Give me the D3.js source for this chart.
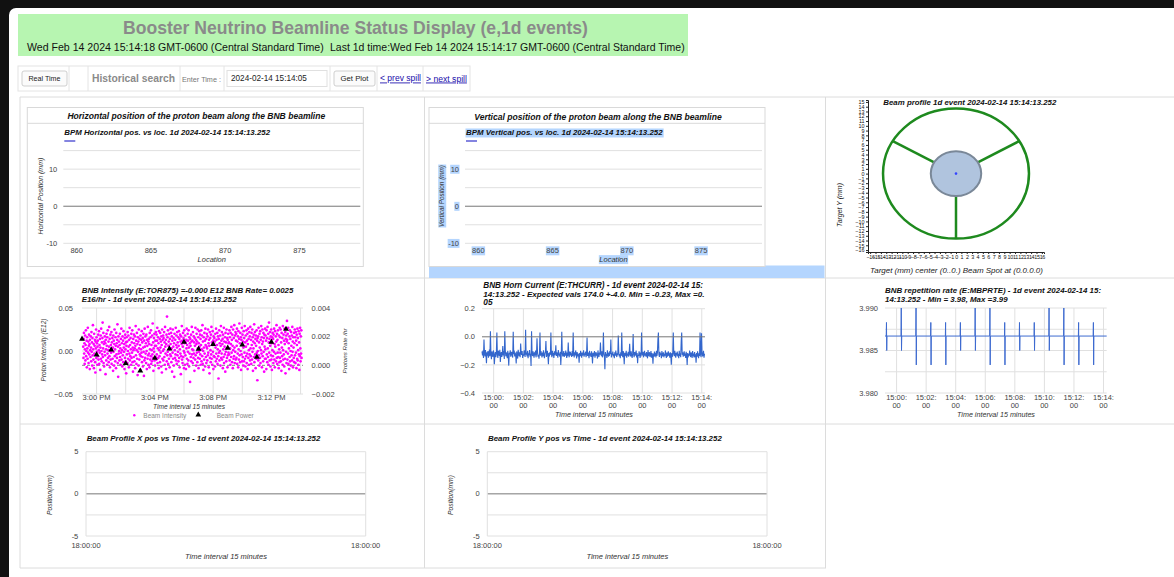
<!DOCTYPE html>
<html><head><meta charset="utf-8">
<script src="https://cdn.jsdelivr.net/npm/d3@7"></script>
<style>
html,body{margin:0;padding:0;background:#111;}
svg{display:block;font-family:"Liberation Sans",Arial,Helvetica,sans-serif;}
</style></head><body>
<svg id="page" width="1174" height="577"></svg>
<script>
// ---------- page text ----------
const pageTitle = "Booster Neutrino Beamline Status Display (e,1d events)";
const nowStamp = "Wed Feb 14 2024 15:14:18 GMT-0600 (Central Standard Time)";
const last1dStamp = "Last 1d time:Wed Feb 14 2024 15:14:17 GMT-0600 (Central Standard Time)";
const eventStamp = "2024-02-14 15:14:13.252";
const searchTime = "2024-02-14 15:14:05";

// ---------- BPM position along the beamline ----------
const bpmLocTicks = [860, 865, 870, 875];
const bpmGrid = [-10, -5, 0, 5, 10, 15];
const bpmLabels = [-10, 0, 10];
const bpmHorizontal = [];   // [location, mm] — no readings in this event
const bpmVertical = [];

// ---------- beam profile on target ----------
const profileTicksX = [-16,-15,-14,-13,-12,-11,-10,-9,-8,-7,-6,-5,-4,-3,-2,-1,0,1,2,3,4,5,6,7,8,9,10,11,12,13,14,15,16];
const profileTicksY = [-16,-15,-14,-13,-12,-11,-10,-9,-8,-7,-6,-5,-4,-3,-2,-1,0,1,2,3,4,5,6,7,8,9,10,11,12,13,14,15];
const targetRadius = 13.6;       // mm
const pipeRadius = 4.7;          // mm
const spokeAngles = [30, 150, 270];
const beamSpot = [0, 0];

// ---------- BNB intensity (E:TOR875), 1 s samples, units of 0.001 E12 ----------
const intensityStart = "14:59:05";
const intensityStepSec = 1;
const beamIntensityMilli = [
5,-8,14,21,-3,9,-15,2,18,-11,7,24,-6,0,12,-19,16,3,-9,27,-2,11,-14,6,19,-4,8,-21,13,1,
-7,17,4,-12,22,-1,10,-17,15,-5,30,2,-10,8,-20,20,-3,6,13,-13,-25,11,3,25,-8,16,-1,9,-16,5,
12,-6,19,-10,1,23,-15,7,-2,14,-22,4,18,-9,26,0,-12,10,-4,15,33,-7,3,21,-14,8,-18,11,-1,17,
-5,9,-27,13,2,-11,20,6,-16,16,-3,24,-8,1,11,-13,5,28,-6,14,-19,0,19,-10,7,-2,22,-15,10,3,
15,-9,4,-23,18,-1,12,-17,8,25,-6,2,-12,16,6,-20,21,-4,9,-8,13,31,-14,5,-30,17,-3,11,0,-11,
7,20,-7,3,-16,14,-2,26,-10,9,1,-18,17,-5,12,-13,23,4,-1,8,-21,15,-8,19,2,-12,10,-26,6,16,
-4,11,-14,22,0,-9,18,5,-19,13,-3,27,-11,7,-6,15,2,-16,20,-8,10,-2,24,-13,4,-24,14,1,-7,19,
9,-12,3,17,-20,6,29,-5,12,-15,1,21,-9,8,-28,16,-1,11,-17,25,3,-10,14,-4,7,-22,18,-6,2,13,
-2,23,-13,10,-7,15,-18,4,20,-1,-29,12,-11,26,5,-8,17,-3,9,-14,19,0,-21,13,6,-9,28,-5,11,-16,
14,-3,8,-19,21,2,-10,16,-6,24,-15,7,1,-12,18,-4,32,-8,10,-23,3,15,-1,20,-11,6,-17,12,-7,22,
6,-10,19,-4,12,27,-14,3,16,-8,9,-20,23,1,-6,14,-13,21,4,-2,11,-18,17,7,-25,25,-9,13,0,18,
-11,15,2,22,-7,10,-16,28,5,-3,13,-21,8,19,-12,40,-5,16,-1,24,-15,6,11,-9,20,2,-19,14,-4,26,
8,-6,21,-13,3,17,-24,12,-2,25,-9,5,15,-17,9,-30,20,1,-8,13,-4,27,-11,7,18,-15,4,22,-5,10,
-1,16,-12,6,23,-8,14,-19,2,19,-3,11,-27,17,-6,8,29,-10,12,-14,5,21,-7,15,0,-20,24,-2,9,-16,
18,-5,10,-21,13,3,26,-9,7,-15,20,-1,12,-11,24,4,-18,16,-3,9,-36,14,6,-7,19,-12,11,28,-4,2,
12,-14,22,1,-8,17,-3,10,-23,15,6,-10,27,-5,13,-17,8,20,-2,11,-13,25,3,-8,16,-20,9,-1,23,5,
-9,19,-4,14,-16,7,24,-12,2,18,-6,30,-15,11,0,-22,16,4,-10,21,-3,12,-18,26,7,-7,14,-14,5,20,
3,-11,17,-5,25,-2,9,-19,13,6,-26,22,-8,15,1,-13,19,-4,28,-9,10,-16,7,23,-1,12,-21,17,-6,8,
15,-7,11,-18,20,4,-12,26,-3,13,-9,7,21,-15,2,17,-6,-32,14,-2,24,-11,9,0,18,-17,6,29,-8,12,
-3,22,-10,8,14,-20,19,2,-7,27,-14,11,5,-4,16,-24,21,-1,10,-12,25,3,-8,15,-19,13,-5,20,-2,9,
10,-4,24,-11,16,3,-16,21,8,-7,28,-2,13,-13,19,6,-20,25,1,-9,15,-6,30,4,-14,18,-1,22,-10,12,
20,-8,6,26,-15,11,-3,17,-19,23,2,-10,14,32,-5,9,-13,21,0,16,-22,13,-4,27,-12,7,19,-7,11,-17,
4,23,-12,15,-2,29,-9,10,-18,18,5,-6,24,-14,12,-3,20,-21,8,26,-8,14,1,-16,22,-4,17,-11,28,3,
-6,13,-15,21,7,-10,25,-1,16,-23,11,3,19,-7,31,-13,9,22,-4,14,-20,18,6,-9,24,-2,12,-34,15,0,
17,-11,27,-5,10,-17,20,4,-8,23,-14,13,1,29,-3,16,-19,8,25,-6,11,-12,21,-1,15,-24,19,5,-9,26,
2,18,-9,12,-21,24,-4,15,-13,28,3,-7,20,-16,10,33,-2,14,-11,22,6,-18,17,-5,25,-10,9,-22,16,1,
21,-6,14,-14,19,-1,26,-10,8,-19,23,5,-3,17,-12,11,30,-8,20,-15,13,-2,24,-7,7,-20,18,2,-13,27,
-8,16,-2,25,-12,10,-23,21,4,-6,15,-16,29,1,-10,19,-4,12,-18,26,8,-9,22,-26,14,-1,18,-14,11,35,
13,-10,20,-3,27,-15,9,3,-21,17,-7,24,-12,14,0,-17,22,6,-5,18,-11,28,-1,11,-19,16,4,-8,21,-13,
9,25,-5,16,-14,22,-2,12,-20,19,7,-9,26,-11,15,1,-16,23,-4,10,-22,20,-6,27,3,-12,17,-3,24,-8
];
// beam power, one reading per minute, units of 0.001 E16 protons/hr
const powerTimes = ["14:59","15:00","15:01","15:02","15:03","15:04","15:05","15:06","15:07","15:08","15:09","15:10","15:11","15:12","15:13"];
const beamPowerMilli = [1.84,0.74,1.09,0.14,-0.38,0.51,1.16,1.63,1.14,1.47,1.21,1.44,0.58,1.63,2.53];
const intensityGridTimes = ["15:00","15:02","15:04","15:06","15:08","15:10","15:12","15:14"];
const intensityTickTimes = ["15:00","15:04","15:08","15:12"];

// ---------- horn current (E:THCURR), 2 s samples, units of 0.001 ----------
const hornStart = "14:59:13";
const hornStepSec = 2;
const hornCurrentMilli = [
-105,-132,-98,-150,-20,-118,-140,-95,-126,-188,-110,-135,-101,-148,-122,-90,-138,40,-115,-160,-104,-129,-142,-97,-119,-195,-131,-108,-146,-112,
30,-127,-150,-99,-117,-136,-93,-180,-124,-109,-144,-116,-65,-133,-102,-158,40,-94,-139,-111,-128,-152,-100,-137,-205,-114,-125,-96,-141,-119,
-107,-134,-148,35,-123,-98,-140,-113,-131,-190,-104,-127,-155,-92,-120,-138,-110,-145,-48,-116,-129,-101,-150,-124,-135,-97,-118,-143,50,-126,
-112,-139,-100,-153,-118,-130,-95,-142,-121,-208,40,-115,-137,-103,-126,-149,-110,-133,-98,-146,-122,-10,-108,-141,-128,-156,-117,30,-135,-101,
-124,-147,-113,-138,-96,-130,-152,-119,-106,-30,-143,-127,-100,-136,-195,-115,-140,-109,-128,30,-121,-145,-99,-134,-116,-150,-104,-131,-118,-60,
-137,-110,-126,-148,-94,-132,-119,-141,-107,-200,-123,35,-112,-139,-129,-101,-144,-116,-135,-98,-125,-150,-113,-138,-40,-121,-146,-105,-132,-117,
-128,-143,-102,-136,30,-119,-147,-111,-133,-97,-125,-154,-108,-140,-120,-131,-185,-115,-138,-100,-127,-149,-112,-134,-123,-96,-141,-118,-130,-106,
-145,-121,-5,-136,-110,-128,-152,-99,-134,-117,-143,-104,-130,-190,-114,-139,-122,-101,-148,-126,-109,-135,-118,-155,-97,-131,-144,-112,-127,-40,
-120,-138,-103,-146,-129,30,-115,-140,-230,-108,-133,-121,-150,-96,-126,-142,-113,-137,-101,-124,-20,-147,-116,-130,-105,-139,-122,-153,-110,-134,
-98,-127,-144,-117,-131,10,-106,-140,-123,-152,-111,-136,30,-119,-145,-102,-129,-196,-114,-138,-125,-100,-148,-120,-133,-107,-142,-116,-50,-128,
-139,-104,-131,-150,-118,20,-126,-145,-109,-134,-121,-98,-147,-115,-188,-128,-137,-103,-124,-151,-112,-140,30,-119,-132,-106,-146,-123,-100,-135,
-117,-142,-108,-129,-153,-95,-137,-121,-110,-144,-126,-102,-149,-116,-133,-192,-119,-141,-105,-130,-124,-147,-99,-136,-114,-20,30,-128,-143,-107,
-131,-118,-152,-101,-139,-125,-110,-146,-122,-135,-97,-129,-150,-113,-141,-120,-104,-137,-127,-148,-111,-134,-198,-116,-143,-108,30,-123,-138,-100,
-126,-149,-114,-132,-105,-140,-121,-153,-99,-136,-118,-145,-30,30,-128,-110,-142,-124,-103,-137,-119,-151,-107,-131,-200,-115,-146,-122,-134,-98,
-130,-144,-111,-127,-150,-102,-138,-120,-147,-109,-133,-125,-185,-116,-141,-104,-129,-152,-118,-136,30,-122,-145,25,-113,-139,-126,-100,-148,-121
];
const hornGrid = [-0.4, -0.2, 0, 0.2];
const timeGrid = ["15:00:00","15:02:00","15:04:00","15:06:00","15:08:00","15:10:00","15:12:00","15:14:00"];

// ---------- repetition rate (E:MBPRTE) ----------
const repBase = 3.9867;
const repSpikeTimes = ["14:59:19","15:00:19","15:01:19","15:02:19","15:03:19","15:04:19","15:05:19","15:06:19","15:07:19","15:08:19","15:09:19","15:10:19","15:11:19","15:12:19","15:13:19"];
const repHigh = [3.9883,3.9900,3.9900,3.9883,3.9883,3.9883,3.9900,3.9900,3.9883,3.9883,3.9883,3.9900,3.9900,3.9883,3.9883];
const repLow  = [3.9850,3.9850,3.9833,3.9833,3.9833,3.9850,3.9850,3.9833,3.9833,3.9850,3.9850,3.9850,3.9833,3.9833,3.9833];
const repGrid = [3.980, 3.9825, 3.985, 3.9875, 3.990];
const repLabels = [3.980, 3.985, 3.990];

// ---------- beam profile position vs time ----------
const posGrid = [-5, -2.5, 0, 2.5, 5];
const posLabels = [-5, 0, 5];
const posTimeLabels = ["18:00:00", "18:00:00"];
const profileXpos = [];   // no samples in window
const profileYpos = [];

// ================= drawing =================
const svg = d3.select("#page");
const at = s => { const p = s.split(":").map(Number); return new Date(2024, 1, 14, p[0], p[1], p[2] || 0); };
const addSec = (d, s) => new Date(d.getTime() + s * 1000);

function fit(t, w) {
  const node = t.node(); const len = node.getComputedTextLength();
  const fs = parseFloat(t.attr("font-size"));
  if (len > 0) t.attr("font-size", (fs * w / len).toFixed(2));
  return t;
}
function label(g, x, y, s, o = {}) {
  const t = g.append("text").attr("x", x).attr("y", y).attr("dy", "0.35em").text(s)
    .attr("font-size", o.size || 8).attr("fill", o.fill || "#222")
    .attr("text-anchor", o.anchor || "start");
  if (o.bold) t.attr("font-weight", "bold");
  if (o.italic) t.attr("font-style", "italic");
  if (o.rotate) t.attr("transform", `rotate(-90,${x},${y})`);
  if (o.width) fit(t, o.width);
  if (o.underline) t.attr("text-decoration", "underline");
  return t;
}
function hlines(g, scale, vals, x1, x2, base) {
  g.selectAll(null).data(vals).join("line")
    .attr("x1", x1).attr("x2", x2)
    .attr("y1", d => scale(d)).attr("y2", d => scale(d))
    .attr("stroke", d => (base !== undefined && d === base) ? "#777" : "#e0e0e0")
    .attr("stroke-width", 1);
}
function vlines(g, scale, vals, y1, y2) {
  g.selectAll(null).data(vals).join("line")
    .attr("x1", d => scale(d)).attr("x2", d => scale(d))
    .attr("y1", y1).attr("y2", y2).attr("stroke", "#e0e0e0");
}

// page background
svg.append("rect").attr("x", 9).attr("y", 8).attr("width", 1175).attr("height", 580).attr("rx", 7).attr("fill", "#fff");

// header
const hdr = svg.append("g");
hdr.append("rect").attr("x", 18).attr("y", 14).attr("width", 670).attr("height", 42).attr("fill", "#b7f5b1");
label(hdr, 355.5, 28, pageTitle, { size: 18, bold: true, fill: "#8a8a8a", anchor: "middle", width: 465 });
label(hdr, 27, 47, nowStamp, { size: 11.5, fill: "#111", width: 297 });
label(hdr, 330, 47, last1dStamp, { size: 11.5, fill: "#111", width: 355 });

// toolbar
const tb = svg.append("g");
tb.append("rect").attr("x", 18).attr("y", 66).attr("width", 452).attr("height", 25).attr("fill", "#fff").attr("stroke", "#e4e4e4");
[69, 88, 180, 224, 330, 377, 423].forEach(x => tb.append("line").attr("x1", x).attr("x2", x).attr("y1", 66).attr("y2", 91).attr("stroke", "#e4e4e4"));
tb.append("rect").attr("x", 22).attr("y", 71).attr("width", 45).attr("height", 15).attr("rx", 2).attr("fill", "#fbfbfb").attr("stroke", "#cfcfcf");
label(tb, 44.5, 78.5, "Real Time", { size: 7, anchor: "middle", fill: "#222", width: 32 });
label(tb, 92, 78.5, "Historical search", { size: 10, bold: true, fill: "#8a8a8a", width: 83 });
label(tb, 182, 79, "Enter Time :", { size: 6, fill: "#777", width: 39 });
tb.append("rect").attr("x", 227).attr("y", 70.5).attr("width", 100).attr("height", 16).attr("fill", "#fff").attr("stroke", "#e0e0e0");
label(tb, 231, 78.5, searchTime, { size: 7.5, fill: "#222", width: 76 });
tb.append("rect").attr("x", 334).attr("y", 71).attr("width", 41).attr("height", 15).attr("rx", 2).attr("fill", "#fbfbfb").attr("stroke", "#cfcfcf");
label(tb, 354.5, 78.5, "Get Plot", { size: 7, anchor: "middle", fill: "#222", width: 28 });
label(tb, 380, 78.5, "< prev spill", { size: 8, fill: "#1a0dab", width: 41, underline: true });
label(tb, 426, 78.5, "> next spill", { size: 8, fill: "#1a0dab", width: 41, underline: true });

// dashboard grid frame
const fr = svg.append("g").attr("stroke", "#dcdcdc").attr("stroke-width", 1);
[[20,97,1174,97],[20,278,1174,278],[20,424,1174,424],[20,568,826,568],[20,97,20,568],[424.5,97,424.5,568],[825.5,97,825.5,568]]
  .forEach(l => fr.append("line").attr("x1", l[0]).attr("y1", l[1]).attr("x2", l[2]).attr("y2", l[3]));

// ---------- BPM panels ----------
function bpmPanel(ox, title, titleW, sub, subW, ylab, ylabW, series, highlight) {
  const g = svg.append("g");
  if (highlight) g.append("rect").attr("x", ox).attr("y", 265.5).attr("width", 395.5).attr("height", 12.5).attr("fill", "#b4d5fe");
  g.append("rect").attr("x", ox).attr("y", 107.5).attr("width", 336).attr("height", 159).attr("fill", "#fff").attr("stroke", "#d9d9d9");
  g.append("line").attr("x1", ox).attr("x2", ox + 336).attr("y1", 123.3).attr("y2", 123.3).attr("stroke", "#d9d9d9");
  const x = d3.scaleLinear().domain([859.1, 879.1]).range([ox + 36, ox + 333]);
  const y = d3.scaleLinear().domain([-10, 15]).range([243.3, 150.6]);
  hlines(g, y, bpmGrid, x.range()[0], x.range()[1], 0);
  label(g, ox + 169, 116.5, title, { size: 9, bold: true, italic: true, fill: "#111", anchor: "middle", width: titleW });
  const hl = [];
  hl.push(label(g, ox + 37, 132.7, sub, { size: 8.5, bold: true, italic: true, fill: "#111", width: subW }));
  g.append("line").attr("x1", ox + 37).attr("x2", ox + 48).attr("y1", 141).attr("y2", 141).attr("stroke", "#5b5bd6").attr("stroke-width", 1.5);
  bpmLabels.forEach(v => hl.push(label(g, ox + 30, y(v), String(v), { size: 7.5, fill: "#444", anchor: "end" })));
  bpmLocTicks.forEach(v => hl.push(label(g, x(v), 250.7, String(v), { size: 7.5, fill: "#444", anchor: "middle" })));
  hl.push(label(g, (x.range()[0] + x.range()[1]) / 2, 259.5, "Location", { size: 7.5, italic: true, fill: "#333", anchor: "middle" }));
  hl.push(label(g, ox + 13, 196, ylab, { size: 7.5, italic: true, fill: "#333", anchor: "middle", rotate: true, width: ylabW }));
  g.append("path").datum(series).attr("fill", "none").attr("stroke", "#5b5bd6")
    .attr("d", d3.line().x(d => x(d[0])).y(d => y(d[1])));
  if (highlight) {
    hl.forEach(t => {
      const b = t.node().getBBox();
      const r = g.insert("rect", () => t.node()).attr("x", b.x - 0.5).attr("y", b.y).attr("width", b.width + 1).attr("height", b.height).attr("fill", "#b4d5fe");
      if (t.attr("transform")) r.attr("transform", t.attr("transform"));
    });
  }
}
bpmPanel(27.3, "Horizontal position of the proton beam along the BNB beamline", 258,
  "BPM Horizontal pos. vs loc. 1d " + eventStamp, 206, "Horizontal Position (mm)", 77, bpmHorizontal, false);
bpmPanel(429, "Vertical position of the proton beam along the BNB beamline", 248,
  "BPM Vertical pos. vs loc. 1d " + eventStamp, 197, "Vertical Position (mm)", 62, bpmVertical, true);

// ---------- beam profile on target ----------
(function () {
  const g = svg.append("g");
  const x = d3.scaleLinear().domain([-16.4, 16.4]).range([868, 1044]);
  const y = d3.scaleLinear().domain([-16.4, 15.4]).range([252, 100]);
  const ax = g.append("g").attr("transform", `translate(0,${y(-16.4)})`)
    .call(d3.axisBottom(x).tickValues(profileTicksX).tickSize(2).tickPadding(1.5));
  const ay = g.append("g").attr("transform", `translate(${x(-16.4)},0)`)
    .call(d3.axisLeft(y).tickValues(profileTicksY).tickSize(2).tickPadding(1.5));
  [ax, ay].forEach(a => {
    a.selectAll("text").attr("font-size", 5.4).attr("fill", "#111").attr("font-family", "Liberation Sans, Arial, sans-serif");
    a.selectAll("line,path").attr("stroke", "#222");
  });
  ax.selectAll("text").attr("letter-spacing", -0.3);
  const sx = r => Math.abs(x(r) - x(0)), sy = r => Math.abs(y(r) - y(0));
  g.append("ellipse").attr("cx", x(beamSpot[0])).attr("cy", y(beamSpot[1]))
    .attr("rx", sx(targetRadius)).attr("ry", sy(targetRadius))
    .attr("fill", "none").attr("stroke", "#1e8a1e").attr("stroke-width", 2.5);
  spokeAngles.forEach(a => {
    const c = Math.cos(a * Math.PI / 180), s = Math.sin(a * Math.PI / 180);
    g.append("line").attr("x1", x(pipeRadius * c)).attr("y1", y(pipeRadius * s))
      .attr("x2", x(targetRadius * c)).attr("y2", y(targetRadius * s))
      .attr("stroke", "#1e8a1e").attr("stroke-width", 2.5);
  });
  g.append("ellipse").attr("cx", x(0)).attr("cy", y(0)).attr("rx", sx(pipeRadius)).attr("ry", sy(pipeRadius))
    .attr("fill", "#b0c4de").attr("stroke", "#7a8898").attr("stroke-width", 2);
  g.append("circle").attr("cx", x(beamSpot[0])).attr("cy", y(beamSpot[1])).attr("r", 1.3).attr("fill", "#3344ff");
  label(g, 883.3, 102.5, "Beam profile 1d event " + eventStamp, { size: 8.5, bold: true, italic: true, fill: "#111", width: 173 });
  label(g, 840, 205, "Target Y (mm)", { size: 8, italic: true, fill: "#222", anchor: "middle", rotate: true, width: 44 });
  label(g, 956.5, 270, "Target (mm) center (0..0.) Beam Spot at (0.0.0.0)", { size: 8, italic: true, fill: "#222", anchor: "middle", width: 173 });
})();

// ---------- BNB intensity ----------
(function () {
  const g = svg.append("g");
  const x = d3.scaleTime().domain([at("14:59:00"), at("15:14:10")]).range([82, 303]);
  const yL = d3.scaleLinear().domain([-0.05, 0.05]).range([394, 308]);
  const yR = d3.scaleLinear().domain([-0.002, 0.004]).range([394, 308]);
  vlines(g, x, intensityGridTimes.map(at), 308, 394);
  hlines(g, yL, [-0.05, 0.05, 0], 82, 303);
  hlines(g, yR, [0.002], 82, 303);
  g.append("line").attr("x1", 82).attr("x2", 303).attr("y1", yR(0)).attr("y2", yR(0)).attr("stroke", "#888").attr("stroke-dasharray", "3,2");
  const t0 = at(intensityStart);
  g.selectAll(null).data(beamIntensityMilli).join("circle")
    .attr("cx", (d, i) => x(addSec(t0, i * intensityStepSec)))
    .attr("cy", d => yL(d / 1000)).attr("r", 1.35).attr("fill", "#ff00ff");
  g.selectAll(null).data(beamPowerMilli).join("path")
    .attr("d", d3.symbol(d3.symbolTriangle, 15))
    .attr("transform", (d, i) => `translate(${x(at(powerTimes[i]))},${yR(d / 1000)})`)
    .attr("fill", "#000");
  [0.05, 0, -0.05].forEach(v => label(g, 73, yL(v), d3.format(".2f")(v), { size: 7.5, fill: "#444", anchor: "end" }));
  [0.004, 0.002, 0, -0.002].forEach(v => label(g, 311.5, yR(v), d3.format(".3f")(v), { size: 7.5, fill: "#444" }));
  intensityTickTimes.forEach(t => label(g, x(at(t)), 397, d3.timeFormat("%-I:%M %p")(at(t)), { size: 7.5, fill: "#444", anchor: "middle" }));
  label(g, 81.7, 290.7, "BNB Intensity (E:TOR875) =-0.000 E12 BNB Rate= 0.0025", { size: 8.5, bold: true, italic: true, fill: "#111", width: 212 });
  label(g, 81.7, 299.7, "E16/hr - 1d event " + eventStamp, { size: 8.5, bold: true, italic: true, fill: "#111", width: 155 });
  label(g, 43.3, 350, "Proton Intensity (E12)", { size: 7.5, italic: true, fill: "#333", anchor: "middle", rotate: true, width: 63 });
  label(g, 345, 351, "Protons Rate /hr", { size: 7.5, italic: true, fill: "#333", anchor: "middle", rotate: true, width: 45 });
  label(g, 189, 406.3, "Time interval 15 minutes", { size: 7.5, italic: true, fill: "#333", anchor: "middle", width: 72 });
  g.append("circle").attr("cx", 134.3).attr("cy", 415.3).attr("r", 1.2).attr("fill", "#ff00ff");
  label(g, 143.3, 415.3, "Beam Intensity", { size: 7, fill: "#8a8a8a", width: 43 });
  g.append("path").attr("d", d3.symbol(d3.symbolTriangle, 14)).attr("transform", "translate(198.3,414.8)").attr("fill", "#000");
  label(g, 216.7, 415.3, "Beam Power", { size: 7, fill: "#8a8a8a", width: 37 });
})();

// ---------- horn current ----------
(function () {
  const g = svg.append("g");
  const x = d3.scaleTime().domain([at("14:59:13"), at("15:14:13")]).range([482, 705]);
  const y = d3.scaleLinear().domain([-0.4, 0.2]).range([393, 308.7]);
  vlines(g, x, timeGrid.map(at), 308.7, 393);
  hlines(g, y, [-0.4, -0.2, 0.2], 482, 705);
  const t0 = at(hornStart);
  g.append("path").datum(hornCurrentMilli).attr("fill", "none").attr("stroke", "#3366cc").attr("stroke-width", 1.1)
    .attr("d", d3.line().x((d, i) => x(addSec(t0, i * hornStepSec))).y(d => y(d / 1000)));
  hlines(g, y, [0], 482, 705, 0);
  hornGrid.forEach(v => label(g, 475, y(v), d3.format(".1f")(v), { size: 7.5, fill: "#444", anchor: "end" }));
  timeGrid.forEach(t => {
    label(g, x(at(t)), 397, d3.timeFormat("%H:%M:")(at(t)), { size: 7.5, fill: "#444", anchor: "middle" });
    label(g, x(at(t)), 405.3, d3.timeFormat("%S")(at(t)), { size: 7.5, fill: "#444", anchor: "middle" });
  });
  label(g, 483.3, 284.7, "BNB Horn Current (E:THCURR) - 1d event 2024-02-14 15:", { size: 8.5, bold: true, italic: true, fill: "#111", width: 220 });
  label(g, 483.3, 293.7, "14:13.252 - Expected vals 174.0 +-4.0. Min = -0.23, Max =0.", { size: 8.5, bold: true, italic: true, fill: "#111", width: 221.7 });
  label(g, 483.3, 302.3, "05", { size: 8.3, bold: true, italic: true, fill: "#111" });
  label(g, 594, 414.7, "Time interval 15 minutes", { size: 7.5, italic: true, fill: "#333", anchor: "middle", width: 78 });
})();

// ---------- repetition rate ----------
(function () {
  const g = svg.append("g");
  const x = d3.scaleTime().domain([at("14:59:13"), at("15:14:13")]).range([885, 1106.7]);
  const y = d3.scaleLinear().domain([3.980, 3.990]).range([393, 308]);
  vlines(g, x, timeGrid.map(at), 308, 393);
  hlines(g, y, repGrid, 885, 1106.7);
  const pts = [[x.domain()[0], repBase]];
  repSpikeTimes.forEach((s, i) => {
    const t = at(s);
    pts.push([addSec(t, -1), repBase], [t, repHigh[i]], [addSec(t, 1), repLow[i]], [addSec(t, 2), repBase]);
  });
  pts.push([x.domain()[1], repBase]);
  g.append("path").datum(pts).attr("fill", "none").attr("stroke", "#3d6ad0").attr("stroke-width", 1)
    .attr("d", d3.line().x(d => x(d[0])).y(d => y(d[1])));
  repLabels.forEach(v => label(g, 878, y(v), d3.format(".3f")(v), { size: 7.5, fill: "#444", anchor: "end" }));
  timeGrid.forEach(t => {
    label(g, x(at(t)), 397, d3.timeFormat("%H:%M:")(at(t)), { size: 7.5, fill: "#444", anchor: "middle" });
    label(g, x(at(t)), 405.3, d3.timeFormat("%S")(at(t)), { size: 7.5, fill: "#444", anchor: "middle" });
  });
  label(g, 885, 290.7, "BNB repetition rate (E:MBPRTE) - 1d event 2024-02-14 15:", { size: 8.5, bold: true, italic: true, fill: "#111", width: 216 });
  label(g, 885, 299.3, "14:13.252 - Min = 3.98, Max =3.99", { size: 8.5, bold: true, italic: true, fill: "#111", width: 122.7 });
  label(g, 996, 414.7, "Time interval 15 minutes", { size: 7.5, italic: true, fill: "#333", anchor: "middle", width: 78 });
})();

// ---------- beam profile position vs time ----------
function posPanel(ox, title, series) {
  const g = svg.append("g");
  const x = d3.scalePoint().domain(d3.range(posTimeLabels.length)).range([ox + 86, ox + 365.7]);
  const y = d3.scaleLinear().domain([-5, 5]).range([536, 451.7]);
  hlines(g, y, posGrid, ox + 86, ox + 365.7, 0);
  vlines(g, x, x.domain(), 451.7, 536);
  g.append("path").datum(series).attr("fill", "none").attr("stroke", "#3366cc")
    .attr("d", d3.line().x((d, i) => x(i)).y(d => y(d)));
  posLabels.forEach(v => label(g, ox + 78.3, y(v), String(v), { size: 7.5, fill: "#444", anchor: "end" }));
  posTimeLabels.forEach((s, i) => label(g, x(i), 545.5, s, { size: 7.5, fill: "#444", anchor: "middle" }));
  label(g, ox + 86.7, 438.3, title, { size: 8.5, bold: true, italic: true, fill: "#111", width: 234 });
  label(g, ox + 49.3, 495, "Position(mm)", { size: 7.5, italic: true, fill: "#333", anchor: "middle", rotate: true, width: 40 });
  label(g, ox + 226, 556.7, "Time interval 15 minutes", { size: 7.5, italic: true, fill: "#333", anchor: "middle", width: 82 });
}
posPanel(0, "Beam Profile X pos vs Time - 1d event " + eventStamp, profileXpos);
posPanel(401.3, "Beam Profile Y pos vs Time - 1d event " + eventStamp, profileYpos);
</script>
</body></html>
